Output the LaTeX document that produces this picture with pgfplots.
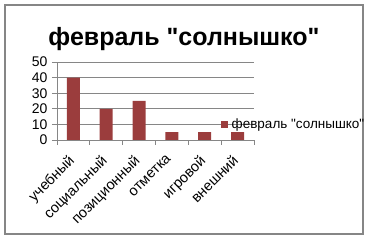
\documentclass[border=0pt]{standalone}
\usepackage{fontspec}
\setmainfont{Liberation Sans}[Ligatures=TeXOff]
\usepackage{pgfplots}
\pgfplotsset{compat=1.18}
\definecolor{barred}{RGB}{155,61,61}
\definecolor{gridgray}{RGB}{134,134,134}
\begin{document}
\begin{tikzpicture}[x=1pt,y=1pt]
\path (0,0) rectangle (370,240);
\draw[gridgray, line width=1.2pt] (5,6) rectangle (363,235);
\node[font=\fontsize{25}{28}\selectfont\bfseries] at (184,201) {февраль "солнышко"};
\begin{axis}[
  at={(57pt,100pt)}, anchor=south west,
  scale only axis, width=197pt, height=78pt,
  xmin=-0.5, xmax=5.5, ymin=0, ymax=50,
  axis x line*=bottom, axis y line*=left,
  axis line style={gridgray, line width=0.8pt},
  ytick={0,10,...,50},
  ymajorgrids, grid style={gridgray, line width=0.8pt},
  xtick={0,...,5},
  xticklabels={учебный,социальный,позиционный,отметка,игровой,внешний},
  minor xtick={-0.5,0.5,...,5.5},
  major x tick style={draw=none},
  minor x tick style={gridgray, line width=0.8pt},
  minor tick length=5pt,
  major tick length=5pt,
  tick align=outside,
  y tick style={gridgray, line width=0.8pt},
  /pgf/number format/assume math mode=true,
  yticklabel style={font=\fontsize{14}{16}\selectfont, xshift=-1pt},
  xticklabel style={font=\fontsize{14.5}{17}\selectfont, xshift=-6pt, yshift=-4pt, rotate=45, anchor=north east},
  legend style={at={(rel axis cs:0.83,0.205)}, anchor=west, draw=none, fill=none,
     font=\fontsize{13.5}{15}\selectfont, inner xsep=0pt, inner ysep=0pt},
  legend image code/.code={\fill[barred] (0pt,-3.5pt) rectangle (7pt,3.5pt);},
  legend cell align=left,
]
\addplot[ybar, bar width=13pt, fill=barred, draw=none] coordinates {(0,40) (1,20) (2,25) (3,5) (4,5) (5,5)};
\addlegendentry{\hspace{2pt}февраль "солнышко"}
\end{axis}
\end{tikzpicture}
\end{document}
